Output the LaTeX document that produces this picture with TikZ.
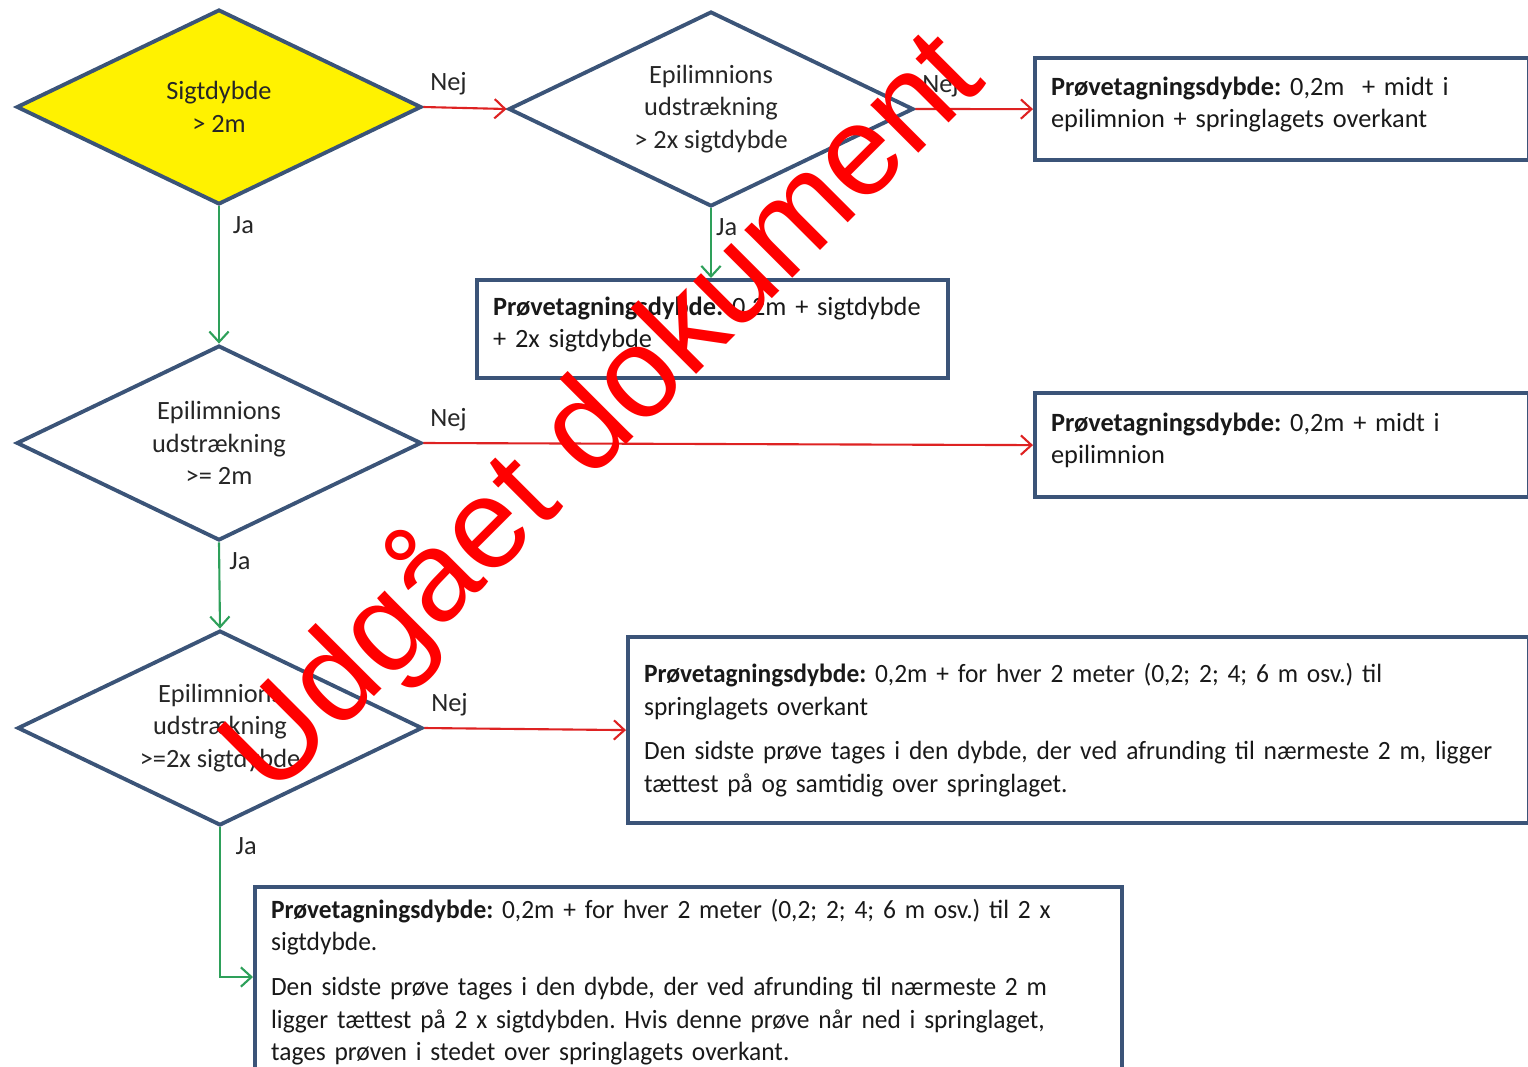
\documentclass[tikz,border=0pt]{standalone}
\usepackage{fontspec}
\setmainfont{Carlito}
\newfontfamily\narrowfont[FakeStretch=0.965]{Carlito}
\newfontfamily\stampfont{Liberation Sans}
\usepackage{tikz}
\usetikzlibrary{positioning, shapes.geometric, arrows.meta}
\usepackage{xcolor}

\definecolor{shapeblue}{RGB}{59,84,120}
\definecolor{nejred}{RGB}{222,34,34}
\definecolor{jagreen}{RGB}{46,160,90}
\definecolor{stampred}{RGB}{255,0,0}

% extra depth under the last line lifts the text in the box
\newcommand{\liftstrut}{\rule[-8pt]{0pt}{8pt}}

\begin{document}
\frenchspacing
\begin{tikzpicture}[
    x=0.02cm, y=-0.02cm,
    font=\fontsize{15}{18.5}\selectfont,
    decision/.style={diamond, draw=shapeblue, line width=2.2pt, aspect=2.08, inner sep=0pt,
        align=center, text=black!85, minimum width=8.1cm, minimum height=3.9cm},
    result/.style={rectangle, draw=shapeblue, line width=2.4pt, anchor=north west,
        align=left, text=black!90, inner xsep=0.32cm},
    longresult/.style={result, font=\narrowfont\fontsize{15}{18.5}\selectfont},
    nej/.style={color=nejred, line width=1.2pt, -{Straight Barb[length=6pt,width=11pt]}},
    ja/.style={color=jagreen, line width=1.2pt, -{Straight Barb[length=6pt,width=11pt]}},
    lbl/.style={text=black!85, pos=0}
]
    \useasboundingbox (0,0) rectangle (1528,1066);

    % Decisions
    \node[decision, fill=yellow] (sigt) at (219,107) {Sigtdybde\\> 2m};
    \node[decision] (epi_k) at (711,109) {Epilimnions\\udstrækning\\> 2x sigtdybde};
    \node[decision] (epi_2m) at (219,443) {Epilimnions\\udstrækning\\>= 2m};
    \node[decision] (epi_2k) at (220,728) {Epilimnions\\udstrækning\\>=2x sigtdybde};

    % Results
    \node[result, text width=9.24cm, minimum height=2.04cm] (res_a) at (1033,56)
        {\textbf{Prøvetagningsdybde:} 0,2m\ \ + midt i\\epilimnion + springlagets overkant\liftstrut};
    \node[result, text width=8.78cm, minimum height=1.96cm] (res_b) at (475,278)
        {\textbf{Prøvetagningsdybde:} 0,2m + sigtdybde\\+ 2x sigtdybde\liftstrut};
    \node[result, text width=9.24cm, minimum height=2.08cm] (res_c) at (1033,391)
        {\textbf{Prøvetagningsdybde:} 0,2m + midt i\\epilimnion\liftstrut};
    \node[longresult, text width=17.38cm, minimum height=3.72cm] (res_d) at (626,635)
        {\textbf{Prøvetagningsdybde:} 0,2m + for hver 2 meter (0,2; 2; 4; 6 m osv.) til\\
         springlagets overkant\\[7pt]
         Den sidste prøve tages i den dybde, der ved afrunding til nærmeste 2 m, ligger\\
         tættest på og samtidig over springlaget.};
    \node[longresult, text width=16.7cm, minimum height=3.8cm] (res_e) at (253,885)
        {\textbf{Prøvetagningsdybde:} 0,2m + for hver 2 meter (0,2; 2; 4; 6 m osv.) til 2 x\\
         sigtdybde.\\[7pt]
         Den sidste prøve tages i den dybde, der ved afrunding til nærmeste 2 m\\
         ligger tættest på 2 x sigtdybden. Hvis denne prøve når ned i springlaget,\\
         tages prøven i stedet over springlagets overkant.};
    \coordinate (e_in) at (253,977);

    % Transitions
    \path[nej]
        (sigt.east) edge node[lbl, anchor=south west, yshift=3pt] {Nej} (epi_k.west)
        (epi_k.east) edge node[lbl, anchor=south west, yshift=3pt] {Nej} (res_a.west)
        (epi_2m.east) edge node[lbl, anchor=south west, yshift=3pt] {Nej} (res_c.west)
        (epi_2k.east) edge node[lbl, anchor=south west, yshift=3pt] {Nej} (res_d.west);
    \path[ja]
        (sigt.south) edge node[lbl, anchor=north west, xshift=4pt, yshift=-2pt] {Ja} (epi_2m.north)
        (epi_k.south) edge node[lbl, anchor=north west, xshift=-1pt, yshift=-2pt] {Ja} (res_b.north -| epi_k.south)
        (epi_2m.south) edge node[lbl, anchor=north west, xshift=2pt, yshift=-2pt] {Ja} (epi_2k.north);
    \draw[ja] (epi_2k.south) |- node[lbl, anchor=north west, xshift=5pt, yshift=-2pt] {Ja} (e_in);

    % Stamp
    \node[rotate=45, text=stampred, font=\stampfont\fontsize{73}{73}\selectfont] (stamp)
        at (603,414) {Udgået dokument};
\end{tikzpicture}
\end{document}
